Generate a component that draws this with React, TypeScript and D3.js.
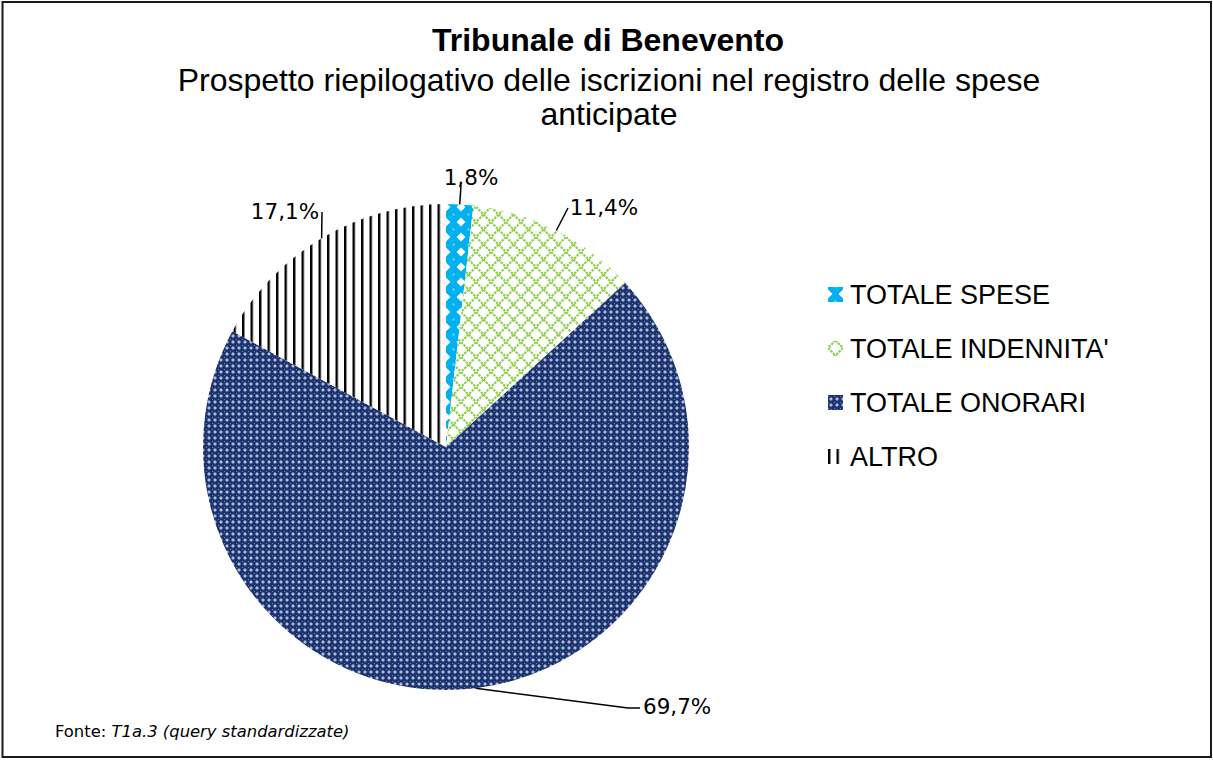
import React, { useEffect, useRef } from "react";
import * as d3 from "d3";

const categories = ["TOTALE SPESE", "TOTALE INDENNITA'", "TOTALE ONORARI", "ALTRO"];
const values = [1.8, 11.4, 69.7, 17.1];
const valueLabels = ["1,8%", "11,4%", "69,7%", "17,1%"];

const titleText = "Tribunale di Benevento";
const subtitleLines = ["Prospetto riepilogativo delle iscrizioni nel registro delle spese", "anticipate"];
const sourceText = ["Fonte: ", "T1a.3 (query standardizzate)"];

const App = () => {
  const svgRef = useRef<SVGSVGElement>(null);

  useEffect(() => {
    drawChart();
  }, []);

  const drawChart = () => {
    const W = 1213;
    const H = 760;
    const cx = 446;
    const cy = 447;
    const radius = 243;

    const svg = d3.select(svgRef.current).attr("width", W).attr("height", H);
    svg.selectAll("*").remove();

    const defs = svg.append("defs");

    // blue diamonds
    const p0 = defs.append("pattern").attr("id", "pat0").attr("patternUnits", "userSpaceOnUse")
      .attr("width", 15).attr("height", 15);
    p0.append("rect").attr("width", 15).attr("height", 15).attr("fill", "#00b0f0");
    p0.append("path").attr("d", "M0,-4.5 L4.5,0 L0,4.5 L-4.5,0 Z M15,-4.5 L19.5,0 L15,4.5 L10.5,0 Z M0,10.5 L4.5,15 L0,19.5 L-4.5,15 Z M15,10.5 L19.5,15 L15,19.5 L10.5,15 Z")
      .attr("fill", "#ffffff");
    p0.append("rect").attr("x", 6.5).attr("y", 6.5).attr("width", 2).attr("height", 2).attr("fill", "#7fd7f7");

    // green lattice
    const p1 = defs.append("pattern").attr("id", "pat1").attr("patternUnits", "userSpaceOnUse")
      .attr("width", 15).attr("height", 15);
    p1.append("rect").attr("width", 15).attr("height", 15).attr("fill", "#ffffff");
    p1.append("path").attr("d", "M0,0 L15,15 M15,0 L0,15").attr("stroke", "#92d050")
      .attr("stroke-width", 2.2).attr("stroke-dasharray", "2.5,1");

    // navy with white crosses
    const p2 = defs.append("pattern").attr("id", "pat2").attr("patternUnits", "userSpaceOnUse")
      .attr("width", 6).attr("height", 6);
    p2.append("rect").attr("width", 6).attr("height", 6).attr("fill", "#1b3370");
    p2.append("rect").attr("x", 1.3).attr("y", 2.5).attr("width", 3.4).attr("height", 1).attr("fill", "#e3e8f2");
    p2.append("rect").attr("x", 2.5).attr("y", 1.3).attr("width", 1).attr("height", 3.4).attr("fill", "#e3e8f2");
    p2.append("rect").attr("x", 0).attr("y", 0).attr("width", 1).attr("height", 1).attr("fill", "#6f82b0");

    // vertical lines
    const p3 = defs.append("pattern").attr("id", "pat3").attr("patternUnits", "userSpaceOnUse")
      .attr("width", 8.5).attr("height", 10);
    p3.append("rect").attr("width", 8.5).attr("height", 10).attr("fill", "#ffffff");
    p3.append("rect").attr("x", 0).attr("y", 0).attr("width", 2.4).attr("height", 10).attr("fill", "#000000");

    const fills = ["url(#pat0)", "url(#pat1)", "url(#pat2)", "url(#pat3)"];

    // frame
    svg.append("rect").attr("x", 2.5).attr("y", 2).attr("width", 1208.5).attr("height", 755)
      .attr("fill", "#ffffff").attr("stroke", "#1a1a1a").attr("stroke-width", 2);

    // titles
    svg.append("text").attr("x", 608).attr("y", 51).attr("text-anchor", "middle")
      .style("font-family", "'Liberation Sans', Arial, sans-serif").style("font-size", "32px")
      .style("font-weight", "bold").text(titleText);
    subtitleLines.forEach((t, i) => {
      svg.append("text").attr("x", 609).attr("y", 91 + i * 34).attr("text-anchor", "middle")
        .style("font-family", "'Liberation Sans', Arial, sans-serif").style("font-size", "32px")
        .text(t);
    });

    const pie = d3.pie<number>().sort(null).value((d) => d);
    const arcs = pie(values);
    const arc = d3.arc<d3.PieArcDatum<number>>().innerRadius(0).outerRadius(radius);

    const g = svg.append("g").attr("transform", `translate(${cx},${cy})`);
    g.selectAll("path.slice")
      .data(arcs)
      .enter()
      .append("path")
      .attr("class", "slice")
      .attr("d", arc)
      .attr("fill", (d, i) => fills[i]);

    // data labels, placed by hand as in the original
    const labelLayout = [
      { tx: 25, ty: -269, pts: [[15, -262]] },
      { tx: 158, ty: -239, pts: [[122, -239]] },
      { tx: 229, ty: 260, pts: [[182, 261], [194, 261]], anchor: "start", tx0: 197 },
      { tx: -161, ty: -235, pts: [[-124, -235]] },
    ];

    arcs.forEach((d, i) => {
      const a = (d.startAngle + d.endAngle) / 2;
      const sx = radius * Math.sin(a);
      const sy = -radius * Math.cos(a);
      const L = labelLayout[i];
      const line = d3.line();
      g.append("path")
        .attr("d", line([[sx, sy], ...(L.pts as [number, number][])]))
        .attr("fill", "none").attr("stroke", "#000").attr("stroke-width", 1.5);
      g.append("text")
        .attr("x", L.anchor ? L.tx0 : L.tx)
        .attr("y", L.ty + 7)
        .attr("text-anchor", L.anchor || "middle")
        .style("font-family", "'DejaVu Sans', Verdana, sans-serif").style("font-size", "21.5px")
        .text(valueLabels[i]);
    });

    // legend
    const legend = svg.append("g").attr("transform", "translate(828,294)");
    categories.forEach((c, i) => {
      const row = legend.append("g").attr("transform", `translate(0,${i * 54})`);
      row.append("rect").attr("x", 0).attr("y", -7).attr("width", 15).attr("height", 15).attr("fill", fills[i]);
      row.append("text").attr("x", 22).attr("y", 10)
        .style("font-family", "'Liberation Sans', Arial, sans-serif").style("font-size", "27px")
        .text(c);
    });

    // source
    const src = svg.append("text").attr("x", 55).attr("y", 737)
      .style("font-family", "'DejaVu Sans', Verdana, sans-serif").style("font-size", "16.4px");
    src.append("tspan").text(sourceText[0]);
    src.append("tspan").style("font-style", "italic").text(sourceText[1]);
  };

  return <svg ref={svgRef} style={{ position: "absolute", left: 0, top: 0 }}></svg>;
};

export default App;
